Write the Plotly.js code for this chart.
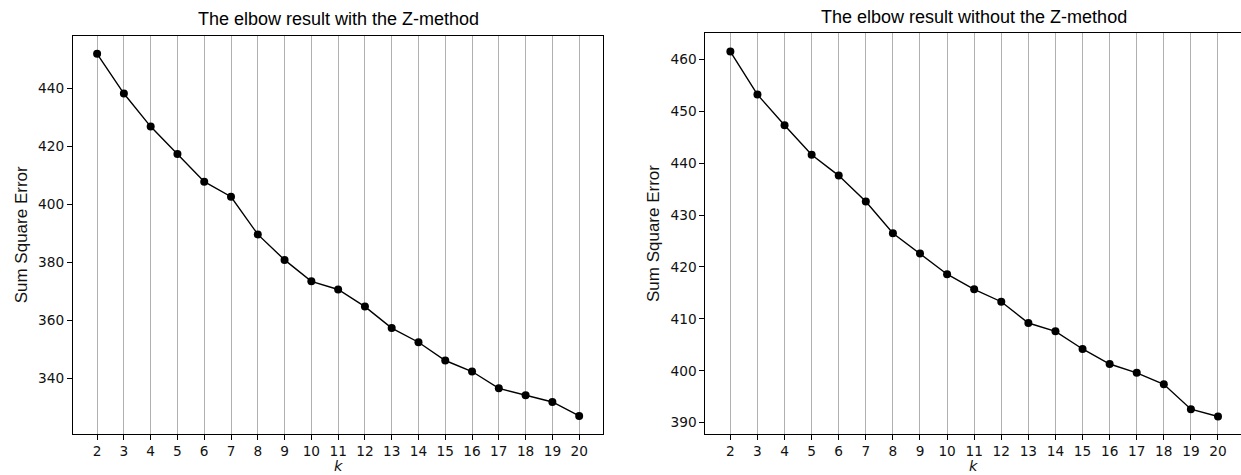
<!DOCTYPE html>
<html>
<head>
<meta charset="utf-8">
<script src="https://cdn.plot.ly/plotly-3.0.1.min.js"></script>
<style>html,body{margin:0;padding:0;background:#fff;}#chart{width:1241px;height:475px;}</style>
</head>
<body>
<div id="chart"></div>
<script>
// Data
const kValues = [2,3,4,5,6,7,8,9,10,11,12,13,14,15,16,17,18,19,20];
const sseWithZ = [452.0,438.3,426.9,417.4,407.9,402.7,389.7,380.9,373.5,370.7,364.8,357.4,352.5,346.2,342.4,336.6,334.2,331.9,327.1];
const sseWithoutZ = [461.5,453.2,447.3,441.6,437.6,432.6,426.5,422.6,418.6,415.7,413.3,409.2,407.6,404.2,401.3,399.6,397.4,392.6,391.2];
const titleWith = "The elbow result with the Z-method";
const titleWithout = "The elbow result without the Z-method";
const yLabel = "Sum Square Error";
const xLabel = "k";

const tickFont = {family: "DejaVu Sans", size: 13.7, color: "#111"};
const axisTitleFont = {family: "Liberation Sans, Arial", size: 17, color: "#111"};
const kFont = {family: "DejaVu Sans", size: 14.5, color: "#111", style: "italic"};
const titleFont = {family: "Liberation Sans, Arial", size: 18, color: "#000"};

function series(y, xa, ya) {
  return {
    x: kValues, y: y, xaxis: xa, yaxis: ya,
    type: "scatter", mode: "lines+markers",
    line: {color: "#000", width: 1.4},
    marker: {color: "#000", size: 8},
    showlegend: false, hoverinfo: "x+y"
  };
}

const xBase = {
  tickmode: "array", tickvals: kValues, ticktext: kValues.map(String),
  showgrid: true, gridcolor: "#b0b0b0", gridwidth: 1,
  zeroline: false, showline: true, linecolor: "#000", linewidth: 1, mirror: true,
  ticks: "outside", ticklen: 5, tickcolor: "#000", tickwidth: 1,
  tickfont: tickFont, automargin: false
};
const yBase = {
  showgrid: false, zeroline: false, showline: true, linecolor: "#000", linewidth: 1, mirror: true,
  ticks: "outside", ticklen: 5, tickcolor: "#000", tickwidth: 1,
  tickfont: tickFont, automargin: false,
  title: {text: yLabel, font: axisTitleFont, standoff: 6}
};

const layout = {
  width: 1241, height: 475,
  margin: {l: 73, r: 0, t: 33, b: 41, pad: 0},
  paper_bgcolor: "#fff", plot_bgcolor: "#fff",
  xaxis: Object.assign({}, xBase, {domain: [0, 0.4540], range: [1.1, 20.9], anchor: "y"}),
  yaxis: Object.assign({}, yBase, {domain: [0, 0.9933], range: [320.85, 458.25], dtick: 20, tick0: 340, anchor: "x"}),
  xaxis2: Object.assign({}, xBase, {domain: [0.5414, 1], range: [1.077, 20.849], anchor: "y2"}),
  yaxis2: Object.assign({}, yBase, {domain: [0, 1], range: [387.82, 465.07], dtick: 10, tick0: 390, anchor: "x2"}),
  annotations: [
    {text: titleWith, xref: "paper", yref: "paper", x: 0.2271, y: 1.005, xanchor: "center", yanchor: "bottom",
     showarrow: false, font: titleFont},
    {text: titleWithout, xref: "paper", yref: "paper", x: 0.7713, y: 1.0092, xanchor: "center", yanchor: "bottom",
     showarrow: false, font: titleFont},
    {text: xLabel, xref: "x domain", yref: "paper", x: 0.5, y: -0.081, xanchor: "center", yanchor: "middle",
     showarrow: false, font: kFont, borderpad: 0},
    {text: xLabel, xref: "x2 domain", yref: "paper", x: 0.5, y: -0.081, xanchor: "center", yanchor: "middle",
     showarrow: false, font: kFont, borderpad: 0}
  ]
};

Plotly.newPlot("chart", [series(sseWithZ, "x", "y"), series(sseWithoutZ, "x2", "y2")], layout, {displayModeBar: false, staticPlot: true});
</script>
</body>
</html>
